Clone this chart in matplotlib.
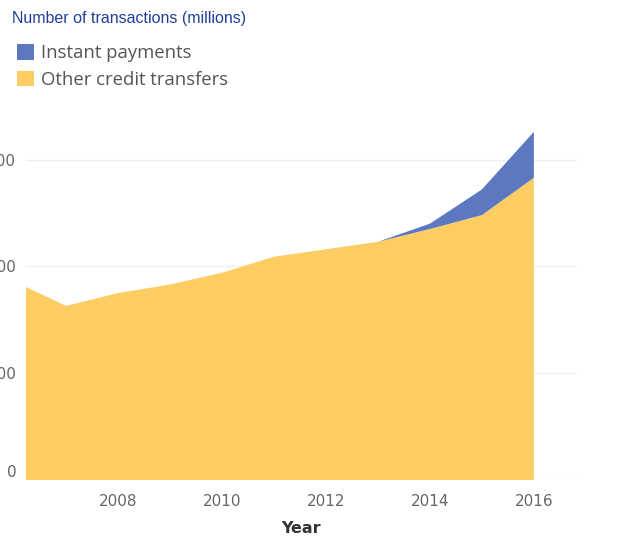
import matplotlib.pyplot as plt
from matplotlib.patches import Patch

# Данные: число транзакций (млн) по годам
years = [2006, 2007, 2008, 2009, 2010, 2011, 2012, 2013, 2014, 2015, 2016]
other_transfers = [186, 163, 175, 183, 194, 209, 216, 223, 235, 248, 283]
instant_payments = [0, 0, 0, 0, 0, 0, 0, 0, 5, 24, 43]
y_ticks = [0, 100, 200, 300]
x_ticks = [2008, 2010, 2012, 2014, 2016]

yellow = "#fdcc62"
blue = "#5b78c0"

fig = plt.figure(figsize=(6.25, 5.42), dpi=100)
ax = fig.add_axes([0.0416, 0.1144, 0.8816, 0.67])

ax.stackplot(years, other_transfers, instant_payments,
             colors=[yellow, blue], linewidth=0)

ax.set_xlim(2006.23, 2016.83)
ax.set_ylim(0, 340)
ax.set_yticks(y_ticks)
ax.set_yticklabels([str(v) for v in y_ticks])
ax.set_xticks(x_ticks)
ax.set_xticklabels([str(v) for v in x_ticks])

ax.grid(axis="y", color="#f0f0f0", linewidth=1)
ax.set_axisbelow(True)
for side in ["top", "right", "left", "bottom"]:
    ax.spines[side].set_visible(False)
ax.tick_params(axis="both", length=0, labelsize=11, labelcolor="#666666")
ax.tick_params(axis="y", pad=7)
ax.tick_params(axis="x", pad=10)
# нижняя метка "0" в оригинале чуть приподнята
ax.get_yticklabels()[0].set_verticalalignment("bottom")

ax.set_xlabel("Year", fontsize=11.5, fontweight="bold", color="#333333", labelpad=9)

fig.text(0.019, 0.965, "Number of transactions (millions)", fontsize=11.5,
         color="#1f3f99", family="Liberation Sans", va="center", ha="left")

handles = [Patch(facecolor=blue, edgecolor="none", label="Instant payments"),
           Patch(facecolor=yellow, edgecolor="none", label="Other credit transfers")]
fig.legend(handles=handles, loc="upper left", bbox_to_anchor=(0.027, 0.918),
           frameon=False, labelcolor="#555555",
           handlelength=0.9, handleheight=0.9, handletextpad=0.4,
           labelspacing=0.45, borderaxespad=0, borderpad=0,
           prop={"family": "Open Sans", "size": 13.3})

fig.savefig("out.png", dpi=100)
